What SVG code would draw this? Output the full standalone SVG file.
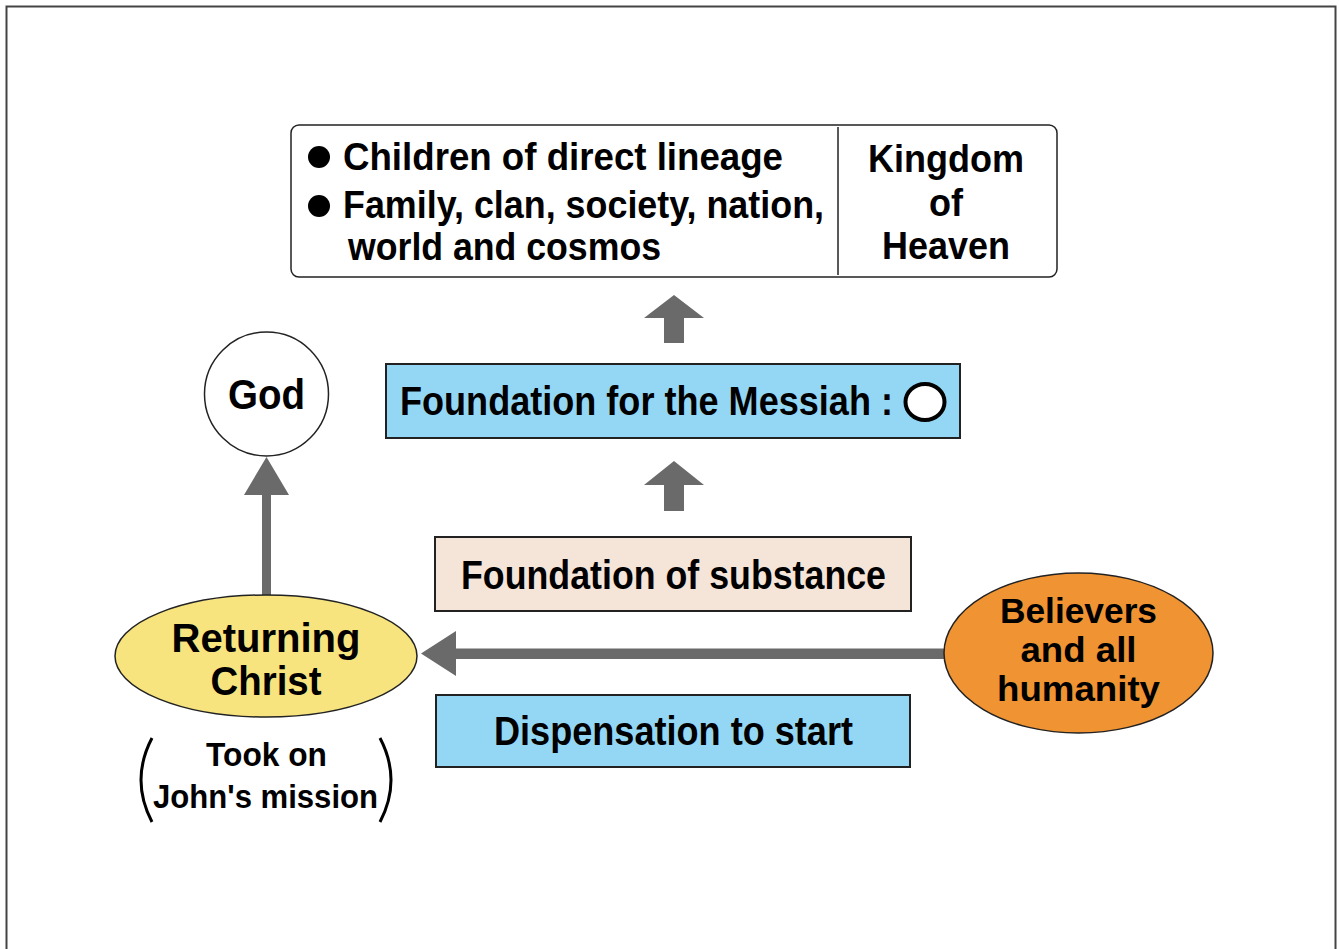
<svg xmlns="http://www.w3.org/2000/svg" width="1339" height="949" viewBox="0 0 1339 949">
<style>
text{font-family:"Liberation Sans",Arial,sans-serif;font-weight:bold;fill:#000;}
.box{stroke:#222;stroke-width:2;}
.blue{fill:#94d7f5;}
.arrow{fill:#6a6a6a;}
</style>
<rect x="6.5" y="6.5" width="1329" height="970" fill="#fff" stroke="#444" stroke-width="2"/>
<g id="connectors">
  <path class="arrow" d="M262,595 V495 H244 L266.5,457 L289,495 H271 V595 Z"/>
  <path class="arrow" d="M945,648.5 H456 V631 L421,653.5 L456,676 V659 H945 Z"/>
  <path class="arrow" d="M664,343 V318 H644 L674,295 L704,318 H684 V343 Z"/>
  <path class="arrow" d="M664,511 V485 H644 L674,461 L704,485 H684 V511 Z"/>
</g>
<g id="kingdom">
  <rect x="291" y="125" width="766" height="152" rx="8" fill="#fff" stroke="#222" stroke-width="1.5"/>
  <line x1="838" y1="127" x2="838" y2="275" stroke="#222" stroke-width="1.5"/>
  <circle cx="319" cy="157" r="11" fill="#000"/>
  <circle cx="319" cy="206" r="11" fill="#000"/>
  <text x="343" y="170" font-size="38" textLength="440" lengthAdjust="spacingAndGlyphs">Children of direct lineage</text>
  <text x="343" y="218" font-size="38" textLength="481" lengthAdjust="spacingAndGlyphs">Family, clan, society, nation,</text>
  <text x="348" y="260" font-size="38" textLength="313" lengthAdjust="spacingAndGlyphs">world and cosmos</text>
  <text x="946" y="172" font-size="38" text-anchor="middle" textLength="156" lengthAdjust="spacingAndGlyphs">Kingdom</text>
  <text x="946" y="216" font-size="38" text-anchor="middle" textLength="34" lengthAdjust="spacingAndGlyphs">of</text>
  <text x="946" y="259" font-size="38" text-anchor="middle" textLength="128" lengthAdjust="spacingAndGlyphs">Heaven</text>
</g>
<g id="god">
  <circle cx="266.5" cy="394" r="62" fill="#fff" stroke="#222" stroke-width="1.5"/>
  <text x="266.5" y="409" font-size="42" text-anchor="middle" textLength="77" lengthAdjust="spacingAndGlyphs">God</text>
</g>
<g id="messiah">
  <rect class="box blue" x="386" y="364" width="574" height="74"/>
  <text x="400" y="415" font-size="40" textLength="493" lengthAdjust="spacingAndGlyphs">Foundation for the Messiah :</text>
  <ellipse cx="925" cy="402" rx="19.5" ry="18" fill="#fff" stroke="#000" stroke-width="4"/>
</g>
<g id="substance">
  <rect class="box" x="435" y="537" width="476" height="74" fill="#f5e4d8"/>
  <text x="461" y="589" font-size="40" textLength="425" lengthAdjust="spacingAndGlyphs">Foundation of substance</text>
</g>
<g id="dispensation">
  <rect class="box blue" x="436" y="695" width="474" height="72"/>
  <text x="494" y="745" font-size="40" textLength="359" lengthAdjust="spacingAndGlyphs">Dispensation to start</text>
</g>
<g id="christ">
  <ellipse cx="266" cy="656" rx="151" ry="61" fill="#f7e47e" stroke="#222" stroke-width="1.5"/>
  <text x="266" y="652" font-size="40" text-anchor="middle" textLength="189" lengthAdjust="spacingAndGlyphs">Returning</text>
  <text x="266" y="695" font-size="40" text-anchor="middle" textLength="111" lengthAdjust="spacingAndGlyphs">Christ</text>
</g>
<g id="john">
  <path d="M152,738 Q130,780 152,822" fill="none" stroke="#000" stroke-width="3"/>
  <path d="M380,738 Q402,780 380,822" fill="none" stroke="#000" stroke-width="3"/>
  <text x="266.5" y="766" font-size="34" text-anchor="middle" textLength="121" lengthAdjust="spacingAndGlyphs">Took on</text>
  <text x="265.5" y="808" font-size="34" text-anchor="middle" textLength="225" lengthAdjust="spacingAndGlyphs">John's mission</text>
</g>
<g id="believers">
  <ellipse cx="1078.5" cy="653" rx="134.5" ry="80" fill="#ef9333" stroke="#222" stroke-width="1.5"/>
  <text x="1078.5" y="623" font-size="35" text-anchor="middle" textLength="157" lengthAdjust="spacingAndGlyphs">Believers</text>
  <text x="1078.5" y="662" font-size="35" text-anchor="middle" textLength="116" lengthAdjust="spacingAndGlyphs">and all</text>
  <text x="1078.5" y="701" font-size="35" text-anchor="middle" textLength="163" lengthAdjust="spacingAndGlyphs">humanity</text>
</g>
</svg>
